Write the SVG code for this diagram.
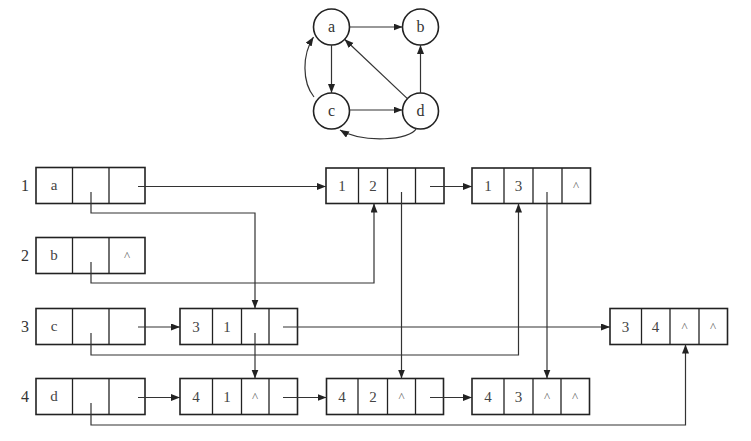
<svg xmlns="http://www.w3.org/2000/svg" width="751" height="441" viewBox="0 0 751 441">
<defs>
<marker id="ah" markerUnits="userSpaceOnUse" markerWidth="10" markerHeight="8" refX="9" refY="3.5" orient="auto">
<path d="M0,0 L9,3.5 L0,7 z" fill="#222"/>
</marker>
<style>
.bx{fill:#fff;stroke:#222;stroke-width:1.6}
.cl{stroke:#222;stroke-width:1.3}
.ln{fill:none;stroke:#333;stroke-width:1.2}
.ar{fill:none;stroke:#333;stroke-width:1.2;marker-end:url(#ah)}
.t{font-family:"Liberation Serif","Times New Roman",serif;font-size:16px;fill:#333;text-anchor:middle}
.n{font-family:"Liberation Serif","Times New Roman",serif;font-size:15px;fill:#444;text-anchor:middle}
.p{font-family:"Liberation Serif","Times New Roman",serif;font-size:13px;fill:#666;text-anchor:middle}
.c{fill:#fff;stroke:#222;stroke-width:1.6}
</style>
</defs>
<rect width="751" height="441" fill="#fff"/>

<!-- top graph -->
<g id="graph">
<g id="ga"><circle class="c" cx="331.5" cy="27" r="18"/><text class="t" x="331.5" y="32">a</text></g>
<g id="gb"><circle class="c" cx="420.5" cy="27" r="18"/><text class="t" x="420.5" y="32">b</text></g>
<g id="gc"><circle class="c" cx="331.5" cy="111" r="18"/><text class="t" x="331.5" y="116">c</text></g>
<g id="gd"><circle class="c" cx="420.5" cy="111" r="18"/><text class="t" x="420.5" y="116">d</text></g>
<g id="gedges">
<line class="ar" x1="349.5" y1="27" x2="402.5" y2="27"/>
<line class="ar" x1="331.5" y1="45" x2="331.5" y2="93"/>
<line class="ar" x1="349.5" y1="110" x2="402.5" y2="110"/>
<line class="ar" x1="420.5" y1="93" x2="420.5" y2="45"/>
<line class="ar" x1="407.4" y1="98.6" x2="344.6" y2="39.3"/>
<path class="ar" d="M314,97 C302,82 302,55 313.5,37"/>
<path class="ar" d="M416.5,128 C411,141 362,143 340,130"/>
</g>
</g>

<!-- row labels -->
<g id="labels">
<text class="t" x="25" y="191">1</text>
<text class="t" x="25" y="261">2</text>
<text class="t" x="25" y="332">3</text>
<text class="t" x="25" y="402">4</text>
</g>

<!-- vertex nodes -->
<g id="va">
<rect class="bx" x="36" y="167.5" width="109" height="36"/>
<line class="cl" x1="72.5" y1="167.5" x2="72.5" y2="203.5"/><line class="cl" x1="109" y1="167.5" x2="109" y2="203.5"/>
<text class="n" x="54" y="190">a</text>
</g>
<g id="vb">
<rect class="bx" x="36" y="237.5" width="109" height="36"/>
<line class="cl" x1="72.5" y1="237.5" x2="72.5" y2="273.5"/><line class="cl" x1="109" y1="237.5" x2="109" y2="273.5"/>
<text class="n" x="54" y="260">b</text>
<text class="p" x="127" y="260">^</text>
</g>
<g id="vc">
<rect class="bx" x="36" y="308.5" width="109" height="36"/>
<line class="cl" x1="72.5" y1="308.5" x2="72.5" y2="344.5"/><line class="cl" x1="109" y1="308.5" x2="109" y2="344.5"/>
<text class="n" x="54" y="331">c</text>
</g>
<g id="vd">
<rect class="bx" x="36" y="378.5" width="109" height="36"/>
<line class="cl" x1="72.5" y1="378.5" x2="72.5" y2="414.5"/><line class="cl" x1="109" y1="378.5" x2="109" y2="414.5"/>
<text class="n" x="54" y="401">d</text>
</g>

<!-- arc nodes -->
<g id="e12">
<rect class="bx" x="326" y="168" width="118" height="35.5"/>
<line class="cl" x1="358.5" y1="168" x2="358.5" y2="203.5"/><line class="cl" x1="387.5" y1="168" x2="387.5" y2="203.5"/><line class="cl" x1="415.5" y1="168" x2="415.5" y2="203.5"/>
<text class="n" x="342" y="191">1</text><text class="n" x="373" y="191">2</text>
</g>
<g id="e13">
<rect class="bx" x="472" y="168" width="118.5" height="35.5"/>
<line class="cl" x1="504" y1="168" x2="504" y2="203.5"/><line class="cl" x1="533" y1="168" x2="533" y2="203.5"/><line class="cl" x1="562" y1="168" x2="562" y2="203.5"/>
<text class="n" x="488" y="191">1</text><text class="n" x="518.5" y="191">3</text><text class="p" x="576" y="190">^</text>
</g>
<g id="e31">
<rect class="bx" x="180" y="308.5" width="117.5" height="36"/>
<line class="cl" x1="212.5" y1="308.5" x2="212.5" y2="344.5"/><line class="cl" x1="241.5" y1="308.5" x2="241.5" y2="344.5"/><line class="cl" x1="269" y1="308.5" x2="269" y2="344.5"/>
<text class="n" x="196" y="332">3</text><text class="n" x="227" y="332">1</text>
</g>
<g id="e34">
<rect class="bx" x="610" y="308.5" width="117.5" height="36"/>
<line class="cl" x1="641.5" y1="308.5" x2="641.5" y2="344.5"/><line class="cl" x1="670" y1="308.5" x2="670" y2="344.5"/><line class="cl" x1="699" y1="308.5" x2="699" y2="344.5"/>
<text class="n" x="625.5" y="332">3</text><text class="n" x="655.5" y="332">4</text><text class="p" x="684.5" y="331">^</text><text class="p" x="713" y="331">^</text>
</g>
<g id="e41">
<rect class="bx" x="180" y="378.5" width="117.5" height="36"/>
<line class="cl" x1="212.5" y1="378.5" x2="212.5" y2="414.5"/><line class="cl" x1="241.5" y1="378.5" x2="241.5" y2="414.5"/><line class="cl" x1="269" y1="378.5" x2="269" y2="414.5"/>
<text class="n" x="196" y="402">4</text><text class="n" x="227" y="402">1</text><text class="p" x="255" y="401">^</text>
</g>
<g id="e42">
<rect class="bx" x="326.5" y="378.5" width="117" height="36"/>
<line class="cl" x1="358" y1="378.5" x2="358" y2="414.5"/><line class="cl" x1="387.5" y1="378.5" x2="387.5" y2="414.5"/><line class="cl" x1="415.5" y1="378.5" x2="415.5" y2="414.5"/>
<text class="n" x="342" y="402">4</text><text class="n" x="373" y="402">2</text><text class="p" x="401.5" y="401">^</text>
</g>
<g id="e43">
<rect class="bx" x="472" y="378.5" width="117.5" height="36"/>
<line class="cl" x1="504" y1="378.5" x2="504" y2="414.5"/><line class="cl" x1="533" y1="378.5" x2="533" y2="414.5"/><line class="cl" x1="561" y1="378.5" x2="561" y2="414.5"/>
<text class="n" x="488" y="402">4</text><text class="n" x="518.5" y="402">3</text><text class="p" x="547" y="401">^</text><text class="p" x="575" y="401">^</text>
</g>

<!-- connectors -->
<g id="connectors">
<!-- firstout -->
<line class="ar" x1="138" y1="186.5" x2="326" y2="186.5"/>
<line class="ar" x1="430" y1="186.5" x2="472" y2="186.5"/>
<line class="ar" x1="138" y1="327" x2="180" y2="327"/>
<line class="ar" x1="283" y1="327" x2="610" y2="327"/>
<line class="ar" x1="138" y1="397.5" x2="180" y2="397.5"/>
<line class="ar" x1="283" y1="397.5" x2="326.5" y2="397.5"/>
<line class="ar" x1="430" y1="397.5" x2="472" y2="397.5"/>
<!-- firstin / hlink -->
<path class="ar" d="M91,192 V213 H255 V308.5"/>
<line class="ar" x1="255" y1="333" x2="255" y2="378.5"/>
<path class="ar" d="M91,262 V283 H374 V203.5"/>
<line class="ar" x1="401.5" y1="192" x2="401.5" y2="378.5"/>
<path class="ar" d="M91,333 V355 H518.5 V203.5"/>
<line class="ar" x1="547" y1="192" x2="547" y2="378.5"/>
<path class="ar" d="M91,403 V425 H685.5 V344.5"/>
</g>
</svg>
